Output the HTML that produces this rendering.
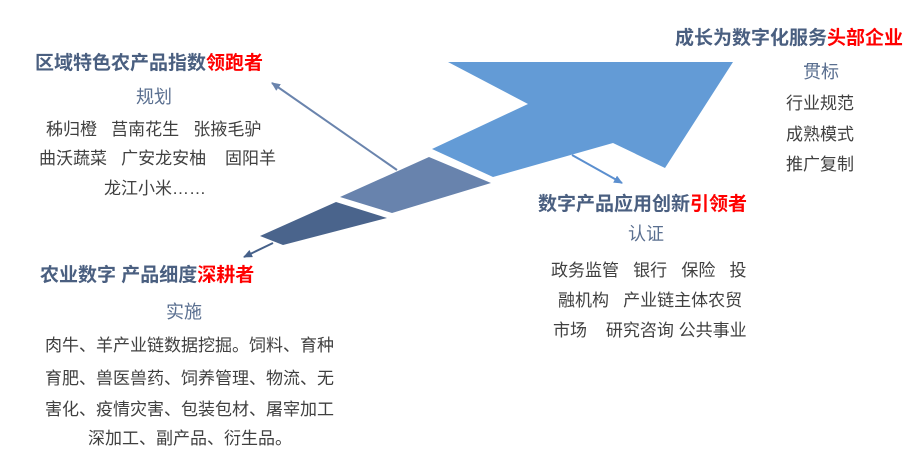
<!DOCTYPE html>
<html><head><meta charset="utf-8"><style>
html,body{margin:0;padding:0;background:#fff;}
body{width:915px;height:455px;position:relative;overflow:hidden;font-family:"Liberation Sans","Noto Sans CJK SC",sans-serif;}
.t{position:absolute;white-space:pre;line-height:1;}
.h{font-size:19px;font-weight:bold;color:#4a5f80;}
.r{color:#ff0000;}
.s{font-size:18px;color:#5a6f90;}
.b{font-size:17px;color:#404040;}
</style></head><body>
<svg width="915" height="455" style="position:absolute;left:0;top:0">
<defs>
<marker id="a1" markerWidth="10" markerHeight="8" refX="8" refY="4" orient="auto" markerUnits="userSpaceOnUse"><path d="M0,0 L9,4 L0,8 Z" fill="#6a84ad"/></marker>
<marker id="a2" markerWidth="10" markerHeight="8" refX="8" refY="4" orient="auto" markerUnits="userSpaceOnUse"><path d="M0,0 L9,4 L0,8 Z" fill="#5b8fcf"/></marker>
<marker id="a3" markerWidth="10" markerHeight="8" refX="8" refY="4" orient="auto" markerUnits="userSpaceOnUse"><path d="M0,0 L9,4 L0,8 Z" fill="#46618a"/></marker>
</defs>
<polygon points="448,62 733,62 665,168 613,143 493,177 432,149 528,104" fill="#639bd6"/>
<polygon points="340,197 429,157 491,183 392,213" fill="#6883ad"/>
<polygon points="260,236 336,202 387,218 283,245" fill="#4a648c"/>
<line x1="397" y1="170" x2="272" y2="83" stroke="#6a84ad" stroke-width="2" marker-end="url(#a1)"/>
<line x1="572" y1="155" x2="622" y2="183" stroke="#5b8fcf" stroke-width="2" marker-end="url(#a2)"/>
<line x1="273" y1="243" x2="244" y2="257" stroke="#46618a" stroke-width="2" marker-end="url(#a3)"/>
</svg>

<div class="t h" style="left:35px;top:54px">区域特色农产品指数<span class="r">领跑者</span></div>
<div class="t s" style="left:136px;top:88px">规划</div>
<div class="t b" style="left:46px;top:121px">秭归橙   莒南花生   张掖毛驴</div>
<div class="t b" style="left:39px;top:150px">曲沃蔬菜   广安龙安柚    固阳羊</div>
<div class="t b" style="left:104px;top:180px">龙江小米……</div>

<div class="t h" style="left:40px;top:266px">农业数字 产品细度<span class="r">深耕者</span></div>
<div class="t s" style="left:166px;top:303px">实施</div>
<div class="t b" style="left:45px;top:337px">肉牛、羊产业链数据挖掘。饲料、育种</div>
<div class="t b" style="left:45px;top:370px">育肥、兽医兽药、饲养管理、物流、无</div>
<div class="t b" style="left:45px;top:401px">害化、疫情灾害、包装包材、屠宰加工</div>
<div class="t b" style="left:88px;top:430px">深加工、副产品、衍生品。</div>

<div class="t h" style="left:675px;top:29px">成长为数字化服务<span class="r">头部企业</span></div>
<div class="t s" style="left:803px;top:63px">贯标</div>
<div class="t b" style="left:786px;top:95px">行业规范</div>
<div class="t b" style="left:786px;top:126px">成熟模式</div>
<div class="t b" style="left:786px;top:156px">推广复制</div>

<div class="t h" style="left:538px;top:195px">数字产品应用创新<span class="r">引领者</span></div>
<div class="t s" style="left:628px;top:225px">认证</div>
<div class="t b" style="left:551px;top:262px">政务监管   银行   保险   投</div>
<div class="t b" style="left:558px;top:292px">融机构   产业链主体农贸</div>
<div class="t b" style="left:553px;top:322px">市场    研究咨询 公共事业</div>
</body></html>
